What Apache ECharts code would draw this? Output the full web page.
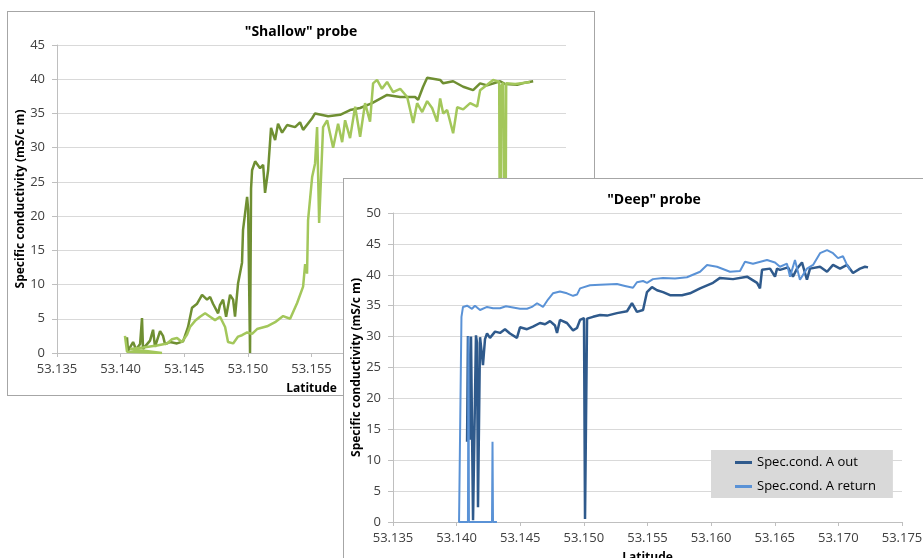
<!DOCTYPE html>
<html>
<head>
<meta charset="utf-8">
<script src="https://cdn.jsdelivr.net/npm/echarts@6/dist/echarts.min.js"></script>
<style>
  body {
    margin: 0;
    width: 923px;
    height: 558px;
    overflow: hidden;
    background: #fff;
    position: relative;
  }
  .panel {
    position: absolute;
    background: #fff;
    border: 1px solid #a6a6a6;
  }
  #shallowPanel { left: 7px; top: 11px; width: 586px; height: 383px; }
  #deepPanel { left: 343px; top: 178px; width: 620px; height: 420px; }
  .chart { width: 100%; height: 100%; }
</style>
</head>
<body>
<div id="shallowPanel" class="panel"><div id="shallowChart" class="chart"></div></div>
<div id="deepPanel" class="panel"><div id="deepChart" class="chart"></div></div>

<script>
// latitude ticks
const latMin = 53.135
const latMax = 53.175
const latStep = 0.005

// "Shallow" probe, [latitude, spec. cond. mS/cm]
const shallowOut = [
  [53.14050, 2.3], [53.14058, 0.3], [53.14098, 1.6], [53.14121, 0.5], [53.14153, 1.3],
  [53.14168, 5.1], [53.14176, 0.6], [53.14208, 1.3], [53.14231, 1.8], [53.14255, 3.4],
  [53.14270, 0.9], [53.14310, 3.2], [53.14333, 2.5], [53.14349, 1.3], [53.14388, 1.6],
  [53.14443, 1.4], [53.14491, 1.7], [53.14530, 3.8], [53.14561, 6.6], [53.14601, 7.2],
  [53.14640, 8.5], [53.14679, 7.8], [53.14703, 8.2], [53.14726, 7.2], [53.14766, 5.8],
  [53.14781, 7.0], [53.14805, 7.8], [53.14829, 5.3], [53.14860, 8.5], [53.14884, 7.8],
  [53.14899, 5.3], [53.14923, 10.2], [53.14954, 13.2], [53.14962, 18.0], [53.14994, 22.8],
  [53.15002, 21.0], [53.15017, 0.0], [53.15025, 24.0], [53.15033, 26.7], [53.15057, 28.0],
  [53.15096, 27.0], [53.15120, 27.5], [53.15135, 23.4], [53.15159, 26.7], [53.15182, 32.9],
  [53.15214, 31.1], [53.15237, 33.5], [53.15269, 32.2], [53.15308, 33.3], [53.15371, 33.0],
  [53.15410, 33.7], [53.15434, 32.6], [53.15505, 34.3], [53.15528, 35.0], [53.15631, 34.6],
  [53.15725, 34.8], [53.15803, 35.5], [53.15882, 35.8], [53.15976, 36.5], [53.16094, 37.7],
  [53.16197, 37.4], [53.16314, 37.4], [53.16338, 37.0], [53.16377, 38.9], [53.16409, 40.2],
  [53.16511, 39.9], [53.16535, 39.4], [53.16613, 39.7], [53.16692, 38.9], [53.16770, 38.4],
  [53.16825, 39.4], [53.16880, 39.1], [53.16983, 39.7], [53.17022, 39.3], [53.17116, 39.2],
  [53.17179, 39.5], [53.17242, 39.7]
]
const shallowReturn = [
  [53.14034, 2.5], [53.14050, 0.2], [53.14325, 0.0], [53.14074, 0.6], [53.14176, 0.8],
  [53.14286, 1.1], [53.14365, 1.4], [53.14404, 2.0], [53.14443, 2.2], [53.14482, 1.6],
  [53.14522, 2.7], [53.14545, 3.8], [53.14585, 4.7], [53.14624, 5.3], [53.14664, 5.8],
  [53.14703, 5.3], [53.14742, 4.8], [53.14781, 5.3], [53.14821, 3.8], [53.14844, 1.6],
  [53.14884, 1.4], [53.14923, 2.4], [53.14954, 2.6], [53.14994, 3.0], [53.15033, 2.8],
  [53.15072, 3.5], [53.15151, 3.9], [53.15214, 4.5], [53.15277, 5.4], [53.15332, 5.0],
  [53.15387, 7.3], [53.15434, 9.7], [53.15450, 13.0], [53.15465, 11.6], [53.15473, 19.4],
  [53.15505, 25.7], [53.15528, 27.7], [53.15544, 33.0], [53.15560, 19.0], [53.15591, 33.0],
  [53.15623, 34.0], [53.15670, 30.0], [53.15709, 33.5], [53.15741, 30.8], [53.15764, 34.0],
  [53.15803, 31.4], [53.15843, 36.0], [53.15882, 31.6], [53.15921, 36.5], [53.15960, 33.8],
  [53.15984, 39.4], [53.16015, 39.9], [53.16054, 38.6], [53.16094, 39.6], [53.16141, 38.1],
  [53.16197, 38.6], [53.16252, 37.4], [53.16299, 33.6], [53.16330, 36.5], [53.16370, 35.2],
  [53.16409, 36.8], [53.16448, 35.8], [53.16487, 33.8], [53.16511, 37.2], [53.16535, 35.0],
  [53.16566, 35.5], [53.16613, 32.1], [53.16645, 35.9], [53.16692, 35.6], [53.16747, 36.5],
  [53.16802, 36.0], [53.16825, 38.4], [53.16880, 39.2], [53.16927, 39.9], [53.16975, 39.6],
  [53.16983, 0.5], [53.16991, 39.0], [53.17007, 39.5], [53.17022, 1.0], [53.17030, 39.4],
  [53.17101, 39.3], [53.17179, 39.5], [53.17218, 39.6]
]

// "Deep" probe, [latitude, spec. cond. mS/cm]
const deepOut = [
  [53.14082, 13.0], [53.14089, 30.1], [53.14097, 30.3], [53.14105, 13.3], [53.14113, 30.0],
  [53.14121, 30.2], [53.14129, 0.3], [53.14152, 30.2], [53.14160, 29.0], [53.14168, 2.4],
  [53.14184, 29.9], [53.14199, 27.0], [53.14207, 25.4], [53.14223, 29.6], [53.14239, 30.5],
  [53.14262, 29.8], [53.14302, 30.8], [53.14341, 30.6], [53.14380, 31.2], [53.14419, 30.5],
  [53.14474, 29.8], [53.14498, 31.5], [53.14553, 31.2], [53.14600, 31.6], [53.14655, 32.2],
  [53.14695, 32.0], [53.14734, 32.5], [53.14773, 31.8], [53.14789, 30.6], [53.14812, 32.7],
  [53.14867, 32.2], [53.14915, 31.0], [53.14946, 31.4], [53.14970, 32.7], [53.15001, 33.0],
  [53.15009, 0.5], [53.15017, 0.5], [53.15025, 32.9], [53.15072, 33.2], [53.15127, 33.5],
  [53.15182, 33.4], [53.15260, 33.8], [53.15339, 34.1], [53.15378, 35.4], [53.15417, 34.0],
  [53.15465, 34.3], [53.15496, 37.2], [53.15535, 38.0], [53.15575, 37.5], [53.15622, 37.2],
  [53.15677, 36.7], [53.15771, 36.7], [53.15834, 37.0], [53.15913, 37.8], [53.16015, 38.7],
  [53.16070, 39.5], [53.16172, 39.3], [53.16282, 39.7], [53.16361, 38.7], [53.16384, 37.8],
  [53.16400, 40.8], [53.16463, 41.0], [53.16502, 39.7], [53.16518, 41.0], [53.16541, 40.8],
  [53.16604, 41.2], [53.16643, 39.7], [53.16675, 41.0], [53.16714, 42.0], [53.16753, 39.2],
  [53.16777, 41.0], [53.16856, 41.3], [53.16911, 40.5], [53.16958, 41.6], [53.17013, 41.0],
  [53.17068, 41.6], [53.17115, 40.3], [53.17170, 41.0], [53.17209, 41.3], [53.17233, 41.2]
]
const deepReturn = [
  [53.14317, 0.0], [53.14286, 0.0], [53.14282, 13.0], [53.14278, 0.0], [53.14097, 0.0],
  [53.14093, 30.0], [53.14089, 0.0], [53.14019, 0.0], [53.14034, 0.0], [53.14038, 33.2],
  [53.14050, 34.8], [53.14082, 35.0], [53.14121, 34.5], [53.14144, 35.0], [53.14184, 34.3],
  [53.14239, 34.8], [53.14286, 34.6], [53.14341, 34.6], [53.14388, 34.9], [53.14443, 34.7],
  [53.14498, 34.5], [53.14553, 34.5], [53.14592, 34.8], [53.14632, 35.4], [53.14679, 34.8],
  [53.14718, 36.0], [53.14757, 37.0], [53.14812, 37.3], [53.14867, 37.0], [53.14915, 36.6],
  [53.14946, 36.8], [53.14970, 37.8], [53.15048, 38.3], [53.15127, 38.4], [53.15260, 38.5],
  [53.15323, 38.2], [53.15386, 37.9], [53.15417, 38.8], [53.15465, 39.0], [53.15496, 38.7],
  [53.15543, 39.3], [53.15622, 39.5], [53.15716, 39.4], [53.15810, 39.6], [53.15913, 40.5],
  [53.15968, 41.6], [53.16046, 41.3], [53.16148, 40.5], [53.16227, 40.6], [53.16266, 42.1],
  [53.16329, 41.8], [53.16439, 42.4], [53.16502, 42.0], [53.16541, 41.3], [53.16596, 41.8],
  [53.16620, 39.7], [53.16659, 42.4], [53.16698, 39.2], [53.16753, 41.0], [53.16801, 41.6],
  [53.16856, 43.5], [53.16911, 44.0], [53.16958, 43.5], [53.16997, 42.7], [53.17036, 43.0],
  [53.17068, 41.6], [53.17091, 40.8]
]

const font = "'Open Sans', 'Liberation Sans', sans-serif"
const yName = 'Specific conductivity (mS/c m)'

function baseOption(title, yMax, top, height) {
  return {
    animation: false,
    title: {
      text: title,
      left: 'center',
      top: top - 25,
      textStyle: { fontFamily: font, fontSize: 14, fontWeight: 'bold', color: '#000' }
    },
    grid: { left: 49, top: top, width: 509, height: height, outerBoundsMode: 'none' },
    xAxis: {
      type: 'value',
      min: latMin,
      max: latMax,
      interval: latStep,
      name: 'Latitude',
      nameLocation: 'middle',
      nameGap: 30,
      nameMoveOverlap: false,
      nameTextStyle: { fontFamily: font, fontSize: 12, fontWeight: 'bold', color: '#000' },
      axisLine: { lineStyle: { color: '#bfbfbf' } },
      axisTick: { show: true, length: 4, lineStyle: { color: '#bfbfbf' } },
      axisLabel: {
        margin: 10,
        fontFamily: font,
        fontSize: 13,
        color: '#404040',
        formatter: v => v.toFixed(3)
      },
      splitLine: { show: false }
    },
    yAxis: {
      type: 'value',
      min: 0,
      max: yMax,
      interval: 5,
      name: yName,
      nameLocation: 'middle',
      nameGap: 30,
      nameMoveOverlap: false,
      nameTextStyle: { fontFamily: font, fontSize: 12, fontWeight: 'bold', color: '#000' },
      axisLine: { show: true, lineStyle: { color: '#bfbfbf' } },
      axisTick: { show: true, length: 5, lineStyle: { color: '#bfbfbf' } },
      axisLabel: { margin: 12, fontFamily: font, fontSize: 13, color: '#404040' },
      splitLine: { lineStyle: { color: '#d9d9d9' } }
    }
  }
}

function lineSeries(name, data, color, width) {
  return {
    name: name,
    type: 'line',
    data: data,
    showSymbol: false,
    symbol: 'none',
    lineStyle: { color: color, width: width },
    itemStyle: { color: color }
  }
}

function initShallowChart() {
  const chart = echarts.init(document.getElementById('shallowChart'))
  const option = baseOption('"Shallow" probe', 45, 33, 308)
  option.series = [
    lineSeries('Spec.cond. A out', shallowOut, '#6f8f32', 2.5),
    lineSeries('Spec.cond. A return', shallowReturn, '#a3c75b', 2.5)
  ]
  chart.setOption(option)
}

function initDeepChart() {
  const chart = echarts.init(document.getElementById('deepChart'))
  const option = baseOption('"Deep" probe', 50, 34, 309)
  option.legend = {
    orient: 'vertical',
    left: 367,
    top: 271,
    backgroundColor: '#d9d9d9',
    padding: [6, 17, 5, 24],
    itemGap: 11,
    itemWidth: 17,
    itemHeight: 3,
    icon: 'rect',
    textStyle: { fontFamily: font, fontSize: 13, color: '#000' },
    data: ['Spec.cond. A out', 'Spec.cond. A return']
  }
  option.series = [
    lineSeries('Spec.cond. A out', deepOut, '#2f5a8c', 2.5),
    lineSeries('Spec.cond. A return', deepReturn, '#5a92d6', 2)
  ]
  chart.setOption(option)
}

initShallowChart()
initDeepChart()
</script>
</body>
</html>
